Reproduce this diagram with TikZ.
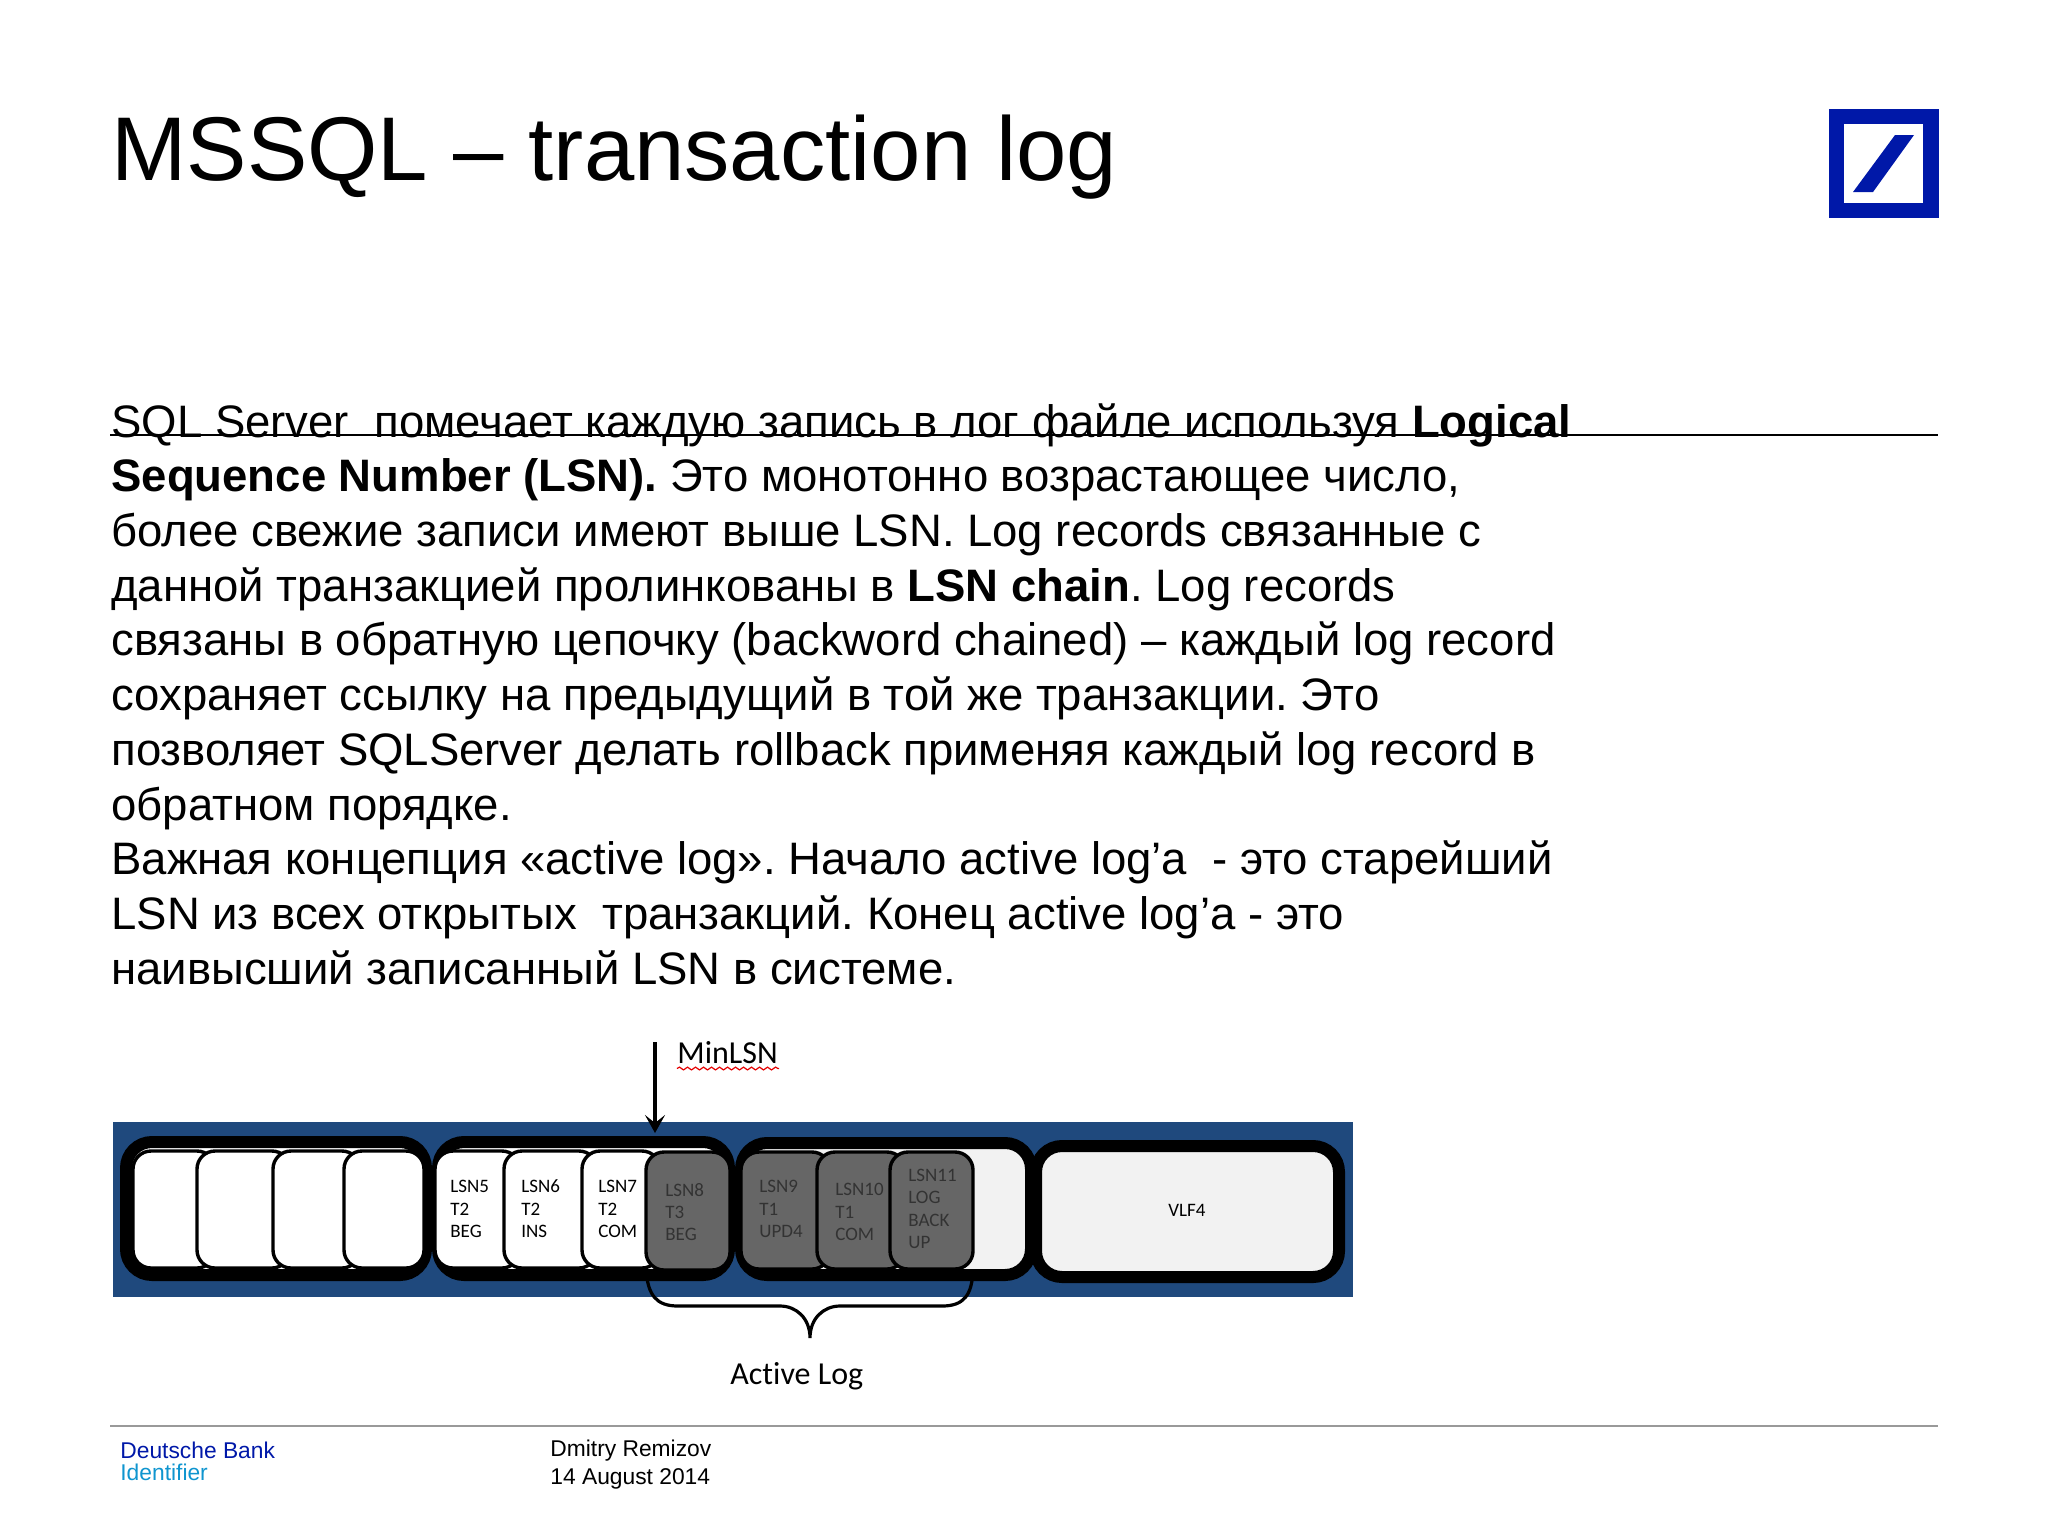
\documentclass[tikz,border=0pt]{standalone}
\usepackage{fontspec}
\setmainfont{Liberation Sans}
\newfontfamily\shotfont[Ligatures=NoCommon]{Carlito}
\frenchspacing
\usetikzlibrary{arrows.meta}
\usetikzlibrary{decorations.pathmorphing}
\definecolor{dbblue}{HTML}{0018A8}
\definecolor{dbcyan}{HTML}{0F95CF}
\definecolor{shotblue}{HTML}{1F497D}
\definecolor{shotgray}{HTML}{666666}
\definecolor{shotpale}{HTML}{F2F2F2}
\tikzset{
    vlfbox/.style={draw=black,line width=6pt,rounded corners=13pt},
    cellbox/.style={draw=black,line width=1.7pt,rounded corners=9pt,fill=white},
    darkbox/.style={cellbox,fill=shotgray},
    lsntext/.style={anchor=west,inner sep=0,align=left,font=\shotfont\fontsize{9.5}{11.2}\selectfont},
    darktext/.style={lsntext,text=black!80},
    shotlabel/.style={anchor=west,inner sep=0,font=\shotfont\fontsize{16}{19}\selectfont},
    footer/.style={anchor=west,inner sep=0,font=\fontsize{11.4}{13}\selectfont}
}

\begin{document}
\begin{tikzpicture}[x=0.5pt,y=-0.5pt]
        \useasboundingbox (0,0) rectangle (2048,1536);
        \node[anchor=base west,inner sep=0,font=\fontsize{45.25}{50}\selectfont] (title) at (111,180) {MSSQL -- transaction log};

        % logo
        \fill[dbblue] (1829,109) rectangle (1939,218);
        \fill[white] (1844,124) rectangle (1923,203);
        \fill[dbblue] (1895,135) -- (1914,135) -- (1873,192) -- (1853,192) -- cycle;

        % text
        \node[anchor=north west,inner sep=0,align=left,font=\fontsize{22.75}{27.35}\selectfont] (body) at (111,403) {%
            SQL Server\ \ помечает каждую запись в лог файле используя \textbf{Logical}\\
            \textbf{Sequence Number (LSN).} Это монотонно возрастающее число,\\
            более свежие записи имеют выше LSN. Log records связанные с\\
            данной транзакцией пролинкованы в \textbf{LSN chain}. Log records\\
            связаны в обратную цепочку (backword chained) -- каждый log record\\
            сохраняет ссылку на предыдущий в той же транзакции. Это\\
            позволяет SQLServer делать rollback применяя каждый log record в\\
            обратном порядке.\\
            Важная концепция «active log». Начало active log’а\ \ - это старейший\\
            LSN из всех открытых\ \ транзакций. Конец active log’а - это\\
            наивысший записанный LSN в системе.};
        \draw[line width=1pt] (110,435) -- (1938,435);

        % screenshot
        \fill[shotblue] (113,1122) rectangle (1353,1297);
        \draw[vlfbox,fill=white] (126,1142) rectangle (426,1275);
        \draw[vlfbox,fill=white] (438,1142) rectangle (729,1275);
        \draw[vlfbox,fill=shotpale] (741,1143) rectangle (1031,1275);
        \draw[vlfbox,fill=shotpale] (1036,1146) rectangle (1339,1277);

        \draw[cellbox] (133,1151) rectangle (215,1268);
        \draw[cellbox] (197,1151) rectangle (290,1268);
        \draw[cellbox] (273,1151) rectangle (360,1268);
        \draw[cellbox] (344,1151) rectangle (424,1268);

        \draw[cellbox] (435,1151) rectangle (520,1268);
        \draw[cellbox] (504,1151) rectangle (597,1268);
        \draw[cellbox] (582,1151) rectangle (660,1268);
        \draw[darkbox] (646,1152) rectangle (730,1270);

        \draw[darkbox] (741,1152) rectangle (830,1269);
        \draw[darkbox] (817,1152) rectangle (905,1269);
        \draw[darkbox] (890,1152) rectangle (973,1269);

        \node[lsntext] (lsn5) at (450,1209) {LSN5\\T2\\BEG};
        \node[lsntext] (lsn6) at (521,1209) {LSN6\\T2\\INS};
        \node[lsntext] (lsn7) at (598,1209) {LSN7\\T2\\COM};
        \node[darktext] (lsn8) at (665,1212) {LSN8\\T3\\BEG};
        \node[darktext] (lsn9) at (759,1209) {LSN9\\T1\\UPD4};
        \node[darktext] (lsn10) at (835,1212) {LSN10\\T1\\COM};
        \node[darktext] (lsn11) at (908,1209) {LSN11\\LOG\\BACK\\UP};
        \node[lsntext,anchor=center] (vlf4) at (1187,1210) {VLF4};

        % pointer and brace
        \node[shotlabel] (minlsn) at (677,1053) {MinLSN};
        \draw[red!90!black,line width=0.6pt,decorate,decoration={snake,amplitude=0.7pt,segment length=4pt}] (minlsn.south west) ++(0,4) -- ++(102,0);
        \coordinate (pointertop) at (655,1042);
        \coordinate (pointertip) at (655,1133);
        \draw[line width=1.8pt,-{Stealth[length=9pt,width=10pt,inset=4pt]}] (pointertop) -- (pointertip);

        \coordinate (braceleft) at (646,1270);
        \coordinate (bracetip) at (810,1338);
        \coordinate (braceright) at (973,1270);
        \draw[line width=1.6pt] (braceleft) .. controls (648,1295) and (656,1306) .. (678,1306)
            -- (780,1306) .. controls (796,1306) and (810,1318) .. (bracetip)
            .. controls (810,1318) and (824,1306) .. (840,1306)
            -- (942,1306) .. controls (964,1306) and (972,1295) .. (braceright);
        \node[shotlabel] (activelog) at (730,1376) {Active Log};

        % footer
        \draw[draw=gray!80,line width=1pt] (110,1426) -- (1938,1426);
        \node[footer,text=dbblue] (bank) at (120,1450) {Deutsche Bank};
        \node[footer,text=dbcyan] (identifier) at (120,1472) {Identifier};
        \node[footer] (speaker) at (550,1451) {Dmitry Remizov};
        \node[footer] (date) at (550,1479) {14 August 2014};
    \end{tikzpicture}
\end{document}
